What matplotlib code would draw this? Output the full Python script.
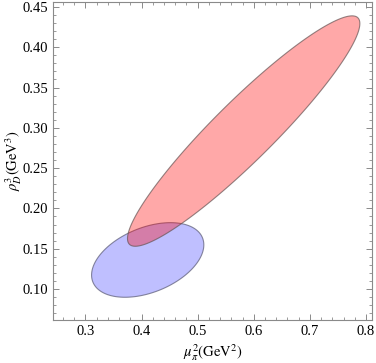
import numpy as np
import matplotlib
matplotlib.use("Agg")
import matplotlib.pyplot as plt
from matplotlib.ticker import MultipleLocator, FixedLocator

# fit regions: centre, spread and correlation of (mu_pi^2, rho_D^3)
red_center = [0.582, 0.296]
red_sigma = [0.207, 0.143]
red_rho = 0.933

blue_center = [0.411, 0.136]
blue_sigma = [0.100, 0.0463]
blue_rho = 0.405

x_ticks = [0.3, 0.4, 0.5, 0.6, 0.7, 0.8]
x_labels = ["0.3", "0.4", "0.5", "0.6", "0.7", "0.8"]
y_ticks = [0.10, 0.15, 0.20, 0.25, 0.30, 0.35, 0.40, 0.45]
y_labels = ["0.10", "0.15", "0.20", "0.25", "0.30", "0.35", "0.40", "0.45"]


def ellipse(center, sigma, rho, n=300):
    sx, sy = sigma
    cov = np.array([[sx * sx, rho * sx * sy], [rho * sx * sy, sy * sy]])
    L = np.linalg.cholesky(cov)
    t = np.linspace(0, 2 * np.pi, n)
    pts = L @ np.vstack([np.cos(t), np.sin(t)])
    return center[0] + pts[0], center[1] + pts[1]


plt.rcParams["font.family"] = "Liberation Serif"
plt.rcParams["mathtext.fontset"] = "stix"

fig = plt.figure(figsize=(3.76, 3.63), dpi=100)
ax = fig.add_axes([0.141, 0.1185, 0.848, 0.876])

bx, by = ellipse(blue_center, blue_sigma, blue_rho)
ax.fill(bx, by, facecolor=(0.0, 0.0, 1.0, 0.25), edgecolor=(0.35, 0.35, 0.45, 0.7), lw=0.8)

rx, ry = ellipse(red_center, red_sigma, red_rho)
ax.fill(rx, ry, facecolor=(1.0, 0.0, 0.0, 0.34), edgecolor=(0.4, 0.33, 0.33, 0.7), lw=0.8)

ax.set_xlim(0.2423, 0.8104)
ax.set_ylim(0.0615, 0.4562)

ax.xaxis.set_major_locator(FixedLocator(x_ticks))
ax.set_xticklabels(x_labels)
ax.yaxis.set_major_locator(FixedLocator(y_ticks))
ax.set_yticklabels(y_labels)
ax.xaxis.set_minor_locator(MultipleLocator(0.02))
ax.yaxis.set_minor_locator(MultipleLocator(0.01))

for s in ax.spines.values():
    s.set_color("#8a8a8a")
    s.set_linewidth(0.8)
ax.tick_params(which="both", direction="in", top=True, right=True, color="#8a8a8a",
               labelsize=10.5, labelcolor="black")
ax.tick_params(which="major", length=4, width=0.7)
ax.tick_params(which="minor", length=2, width=0.6)

ax.set_xlabel(r"$\mu_\pi^2(\mathrm{GeV}^2)$", fontsize=10.5, labelpad=3)
ax.set_ylabel(r"$\rho_D^3(\mathrm{GeV}^3)$", fontsize=10.5)
ax.yaxis.set_label_coords(-0.09, 0.5)

fig.savefig("out.png", dpi=100)
